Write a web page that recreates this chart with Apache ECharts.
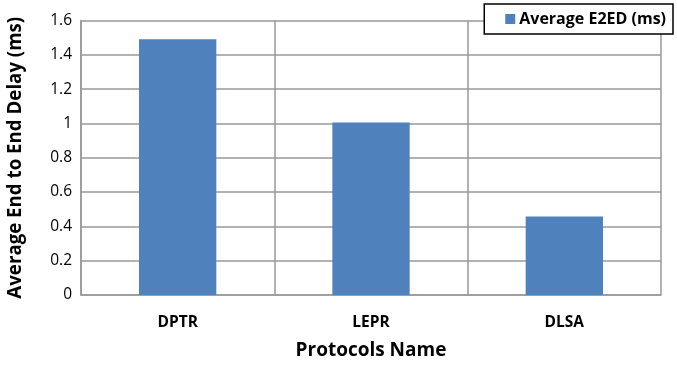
<!DOCTYPE html>
<html><head><meta charset="utf-8">
<script src="https://cdn.jsdelivr.net/npm/echarts@6/dist/echarts.min.js"></script>
<style>html,body{margin:0;padding:0;background:#fff}#c{width:677px;height:365px}</style>
</head><body><div id="c"></div>
<script>
const categories = ["DPTR", "LEPR", "DLSA"];
const e2edValues = [1.49, 1.005, 0.458];
const seriesName = "Average E2ED (ms)";
const yTitle = "Average End to End Delay (ms)";
const xTitle = "Protocols Name";

const chart = echarts.init(document.getElementById('c'));
const font = '"Open Sans", sans-serif';
chart.setOption({
  animation: false,
  grid: {left: 81, right: 16, top: 20.5, bottom: 70, containLabel: false, outerBoundsMode: 'none'},
  legend: {
    show: true, right: 4, top: 4,
    padding: [7, 7, 7, 21],
    borderColor: '#000', borderWidth: 1.5, backgroundColor: '#fff',
    itemWidth: 10, itemHeight: 10, itemGap: 5,
    textStyle: {fontFamily: font, fontWeight: 'bold', fontSize: 16, color: '#000', padding: [0,0,0,-1]},
    icon: 'rect', data: [seriesName]
  },
  xAxis: {
    type: 'category', data: categories,
    name: xTitle, nameLocation: 'middle', nameGap: 46,
    nameTextStyle: {fontFamily: font, fontWeight: 'bold', fontSize: 19, color: '#000'},
    axisLine: {lineStyle: {color: '#999', width: 1.5}},
    axisTick: {show: false},
    splitLine: {show: true, lineStyle: {color: '#999', width: 1.5}},
    axisLabel: {fontFamily: font, fontWeight: 'bold', fontSize: 15.5, color: '#000', margin: 20}
  },
  yAxis: {
    type: 'value', min: 0, max: 1.6, interval: 0.2,
    name: yTitle, nameLocation: 'middle', nameGap: 56, nameRotate: 90,
    nameTextStyle: {fontFamily: font, fontWeight: 'bold', fontSize: 18.7, color: '#000'},
    axisLine: {show: true, lineStyle: {color: '#999', width: 1.5}},
    axisTick: {show: false},
    splitLine: {show: true, lineStyle: {color: '#999', width: 1.5}},
    axisLabel: {fontFamily: font, fontSize: 15.5, color: '#000', margin: 9,
      formatter: v => String(Math.round(v*10)/10)}
  },
  series: [{
    name: seriesName, type: 'bar', data: e2edValues, barWidth: '40%',
    itemStyle: {color: '#4f81bd'}
  }]
});
</script>
</body></html>
